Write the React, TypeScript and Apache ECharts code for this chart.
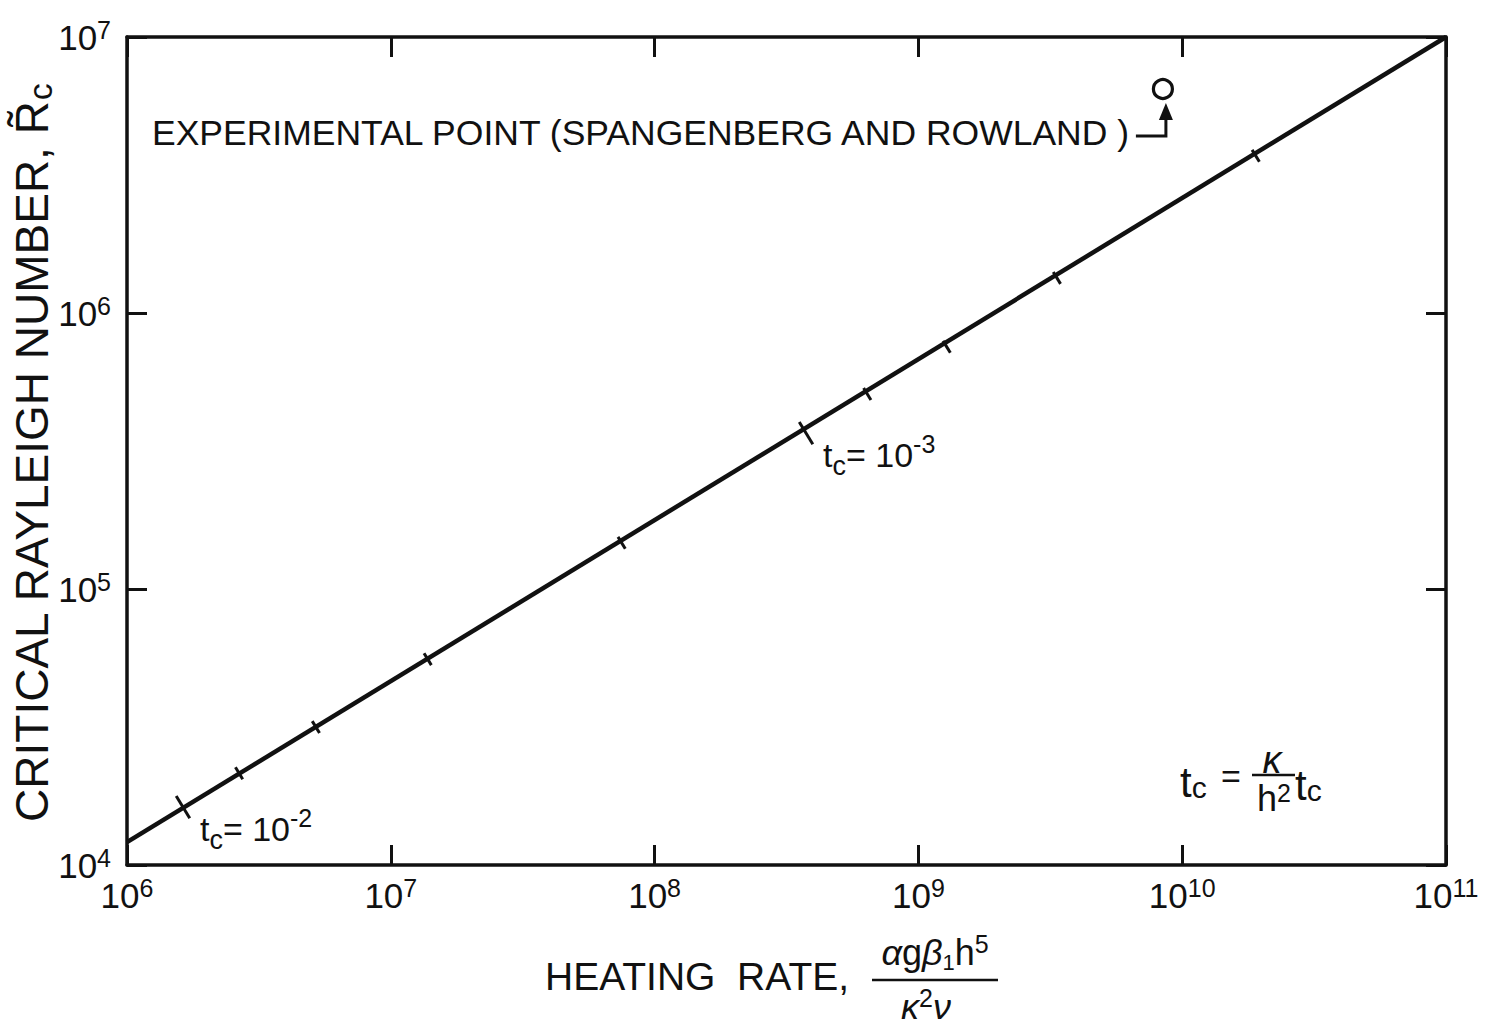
import React, { useEffect, useRef } from "react";
import * as echarts from "echarts";

const FONT = '"Liberation Sans", Arial, sans-serif';
const INK = "#111";

// Axis ranges (decades)
const heatingRange = [1e6, 1e11];
const rayleighRange = [1e4, 1e7];

// Critical Rayleigh number vs. heating rate
const curveHeating = [1e6, 1e11];
const curveRayleigh = [1.21e4, 1e7];

// t_c marks along the curve (major marks carry a label)
const markHeating = [1.63e6, 2.66e6, 5.2e6, 1.38e7, 7.5e7, 3.75e8, 6.4e8, 1.28e9, 3.35e9, 1.9e10];
const markRayleigh = [1.62e4, 2.15e4, 3.16e4, 5.57e4, 1.47e5, 3.67e5, 5.09e5, 7.54e5, 1.34e6, 3.71e6];
const markMajor = [1, 0, 0, 0, 0, 1, 0, 0, 0, 0];
const markExponent = ["-2", "", "", "", "", "-3", "", "", "", ""];

// Experimental point (Spangenberg and Rowland)
const expHeating = [8.45e9];
const expRayleigh = [6.48e6];

export default function App() {
  const ref = useRef<HTMLDivElement>(null);

  useEffect(() => {
    const el = ref.current;
    if (!el) return;
    const chart = echarts.init(el, null, { renderer: "svg" });

    const powerLabel = (v: number) => `{b|10}{s|${Math.round(Math.log10(v))}}`;
    const tickRich = {
      b: { fontSize: 35, lineHeight: 40, fontFamily: FONT, color: INK },
      s: { fontSize: 25, lineHeight: 28, verticalAlign: "top", fontFamily: FONT, color: INK },
    };
    const axisBase = {
      type: "log",
      logBase: 10,
      axisLine: { show: true, lineStyle: { color: INK, width: 3.5 } },
      axisTick: { show: true, inside: true, length: 20, lineStyle: { color: INK, width: 3 } },
      minorTick: { show: false },
      splitLine: { show: false },
    };

    const curveEnds = [
      [curveHeating[0], curveRayleigh[0]],
      [curveHeating[curveHeating.length - 1], curveRayleigh[curveRayleigh.length - 1]],
    ];

    const markRender = (params: any, api: any) => {
      const p = api.coord([api.value(0), api.value(1)]);
      const a = api.coord(curveEnds[0]);
      const b = api.coord(curveEnds[1]);
      let ux = b[0] - a[0];
      let uy = b[1] - a[1];
      const len = Math.hypot(ux, uy) || 1;
      ux /= len;
      uy /= len;
      const nx = -uy;
      const ny = ux;
      const half = api.value(2) ? 13 : 7;
      return {
        type: "line",
        shape: {
          x1: p[0] - nx * half,
          y1: p[1] - ny * half,
          x2: p[0] + nx * half,
          y2: p[1] + ny * half,
        },
        style: { stroke: INK, lineWidth: 3 },
      };
    };

    chart.setOption({
      animation: false,
      backgroundColor: "#fff",
      grid: { left: 127, right: 39, top: 37, bottom: 169, containLabel: false, outerBoundsMode: "none" },
      xAxis: [
        {
          ...axisBase,
          min: heatingRange[0],
          max: heatingRange[1],
          position: "bottom",
          axisLabel: { formatter: powerLabel, rich: tickRich, margin: 10 },
        },
        {
          ...axisBase,
          min: heatingRange[0],
          max: heatingRange[1],
          position: "top",
          axisLabel: { show: false },
        },
      ],
      yAxis: [
        {
          ...axisBase,
          min: rayleighRange[0],
          max: rayleighRange[1],
          position: "left",
          axisLabel: { formatter: powerLabel, rich: tickRich, margin: 16 },
        },
        {
          ...axisBase,
          min: rayleighRange[0],
          max: rayleighRange[1],
          position: "right",
          axisLabel: { show: false },
        },
      ],
      series: [
        {
          type: "line",
          data: curveHeating.map((h, i) => [h, curveRayleigh[i]]),
          symbol: "none",
          lineStyle: { color: INK, width: 4.5 },
          z: 2,
        },
        {
          type: "custom",
          data: markHeating.map((h, i) => [h, markRayleigh[i], markMajor[i]]),
          renderItem: markRender,
          z: 3,
        },
        {
          type: "scatter",
          data: expHeating.map((h, i) => [h, expRayleigh[i]]),
          symbol: "circle",
          symbolSize: 19,
          itemStyle: { color: "#fff", borderColor: INK, borderWidth: 3.2, opacity: 1 },
          z: 4,
        },
      ],
    });

    const px = (h: number, r: number) =>
      chart.convertToPixel({ xAxisIndex: 0, yAxisIndex: 0 }, [h, r]) as number[];

    const labelRich = {
      m: { fontSize: 34, lineHeight: 48, fontFamily: FONT, fill: INK },
      sb: { fontSize: 27, lineHeight: 20, verticalAlign: "bottom", fontFamily: FONT, fill: INK },
      sp: { fontSize: 25, lineHeight: 20, verticalAlign: "top", fontFamily: FONT, fill: INK },
    };

    const graphics: any[] = [];

    // t_c labels beside the major marks
    markHeating.forEach((h, i) => {
      if (!markMajor[i]) return;
      const p = px(h, markRayleigh[i]);
      graphics.push({
        type: "text",
        x: p[0] + 17,
        y: p[1] - 2,
        style: {
          text: `{m|t}{sb|c}{m|= 10}{sp|${markExponent[i]}}`,
          rich: labelRich,
          align: "left",
          verticalAlign: "top",
        },
      });
    });

    // Experimental point caption with arrow
    const e = px(expHeating[0], expRayleigh[0]);
    graphics.push(
      {
        type: "text",
        x: 152,
        y: 133,
        style: {
          text: "EXPERIMENTAL POINT (SPANGENBERG AND ROWLAND )",
          fontSize: 35.5,
          fontFamily: FONT,
          fill: INK,
          align: "left",
          verticalAlign: "middle",
        },
      },
      {
        type: "polyline",
        shape: {
          points: [
            [e[0] - 27, e[1] + 47],
            [e[0] + 3, e[1] + 47],
            [e[0] + 3, e[1] + 28],
          ],
        },
        style: { stroke: INK, lineWidth: 3, fill: null },
      },
      {
        type: "polygon",
        shape: {
          points: [
            [e[0] + 3, e[1] + 14],
            [e[0] - 4, e[1] + 31],
            [e[0] + 10, e[1] + 31],
          ],
        },
        style: { fill: INK },
      }
    );

    // Definition of dimensionless time
    const tRich = {
      t: { fontSize: 42, lineHeight: 40, fontFamily: FONT, fill: INK },
      c: { fontSize: 30, lineHeight: 16, verticalAlign: "bottom", fontFamily: FONT, fill: INK },
      m: { fontSize: 36, lineHeight: 36, fontFamily: FONT, fill: INK },
      sp: { fontSize: 25, lineHeight: 18, verticalAlign: "top", fontFamily: FONT, fill: INK },
    };
    graphics.push(
      {
        type: "text",
        x: 1180,
        y: 782,
        style: { text: "{t|t}{c|c}", rich: tRich, align: "left", verticalAlign: "middle" },
      },
      {
        type: "text",
        x: 1221,
        y: 776,
        style: { text: "=", fontSize: 34, fontFamily: FONT, fill: INK, align: "left", verticalAlign: "middle" },
      },
      {
        type: "text",
        x: 1272,
        y: 760,
        style: {
          text: "κ",
          fontSize: 38,
          fontStyle: "italic",
          fontFamily: FONT,
          fill: INK,
          align: "center",
          verticalAlign: "middle",
        },
      },
      {
        type: "line",
        shape: { x1: 1252, y1: 775, x2: 1295, y2: 775 },
        style: { stroke: INK, lineWidth: 2.5 },
      },
      {
        type: "text",
        x: 1274,
        y: 798,
        style: { text: "{m|h}{sp|2}", rich: tRich, align: "center", verticalAlign: "middle" },
      },
      {
        type: "text",
        x: 1295,
        y: 785,
        style: { text: "{t|t}{c|c}", rich: tRich, align: "left", verticalAlign: "middle" },
      }
    );

    // X-axis title with the heating-rate group
    const fracRich = {
      g: { fontSize: 36, lineHeight: 42, fontFamily: FONT, fill: INK },
      gi: { fontSize: 36, lineHeight: 42, fontStyle: "italic", fontFamily: FONT, fill: INK },
      sb: { fontSize: 22, lineHeight: 18, verticalAlign: "bottom", fontFamily: FONT, fill: INK },
      sp: { fontSize: 25, lineHeight: 18, verticalAlign: "top", fontFamily: FONT, fill: INK },
    };
    graphics.push(
      {
        type: "text",
        x: 545,
        y: 976,
        style: {
          text: "HEATING  RATE,",
          fontSize: 39,
          fontFamily: FONT,
          fill: INK,
          align: "left",
          verticalAlign: "middle",
        },
      },
      {
        type: "text",
        x: 935,
        y: 952,
        style: { text: "{gi|α}{g|g}{gi|β}{sb|1}{g|h}{sp|5}", rich: fracRich, align: "center", verticalAlign: "middle" },
      },
      {
        type: "line",
        shape: { x1: 872, y1: 980, x2: 998, y2: 980 },
        style: { stroke: INK, lineWidth: 2.5 },
      },
      {
        type: "text",
        x: 926,
        y: 1006,
        style: { text: "{gi|κ}{sp|2}{gi|ν}", rich: fracRich, align: "center", verticalAlign: "middle" },
      }
    );

    // Y-axis title, reading upward
    graphics.push({
      type: "text",
      x: 32,
      y: 453,
      rotation: Math.PI / 2,
      style: {
        text: "{m|CRITICAL RAYLEIGH NUMBER, R\u0303}{sb|c}",
        rich: {
          m: { fontSize: 46, lineHeight: 50, fontFamily: FONT, fill: INK },
          sb: { fontSize: 34, lineHeight: 24, verticalAlign: "bottom", fontFamily: FONT, fill: INK },
        },
        align: "center",
        verticalAlign: "middle",
      },
    });

    chart.setOption({ graphic: graphics });

    return () => {
      chart.dispose();
    };
  }, []);

  return (
    <div
      ref={ref}
      style={{ position: "fixed", left: 0, top: 0, width: 1485, height: 1034, background: "#fff" }}
    />
  );
}
